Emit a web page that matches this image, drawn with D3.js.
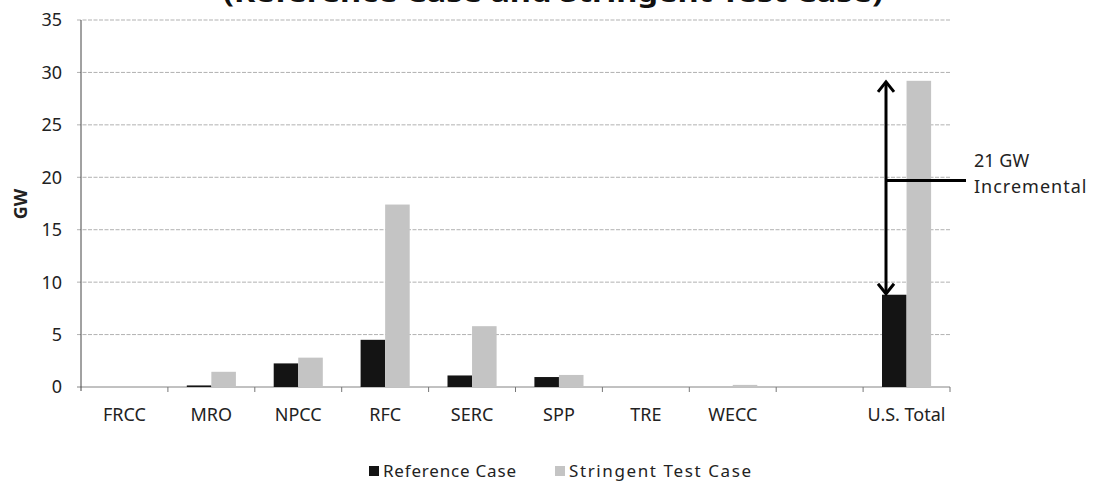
<!DOCTYPE html>
<html>
<head>
<meta charset="utf-8">
<script src="https://cdn.jsdelivr.net/npm/d3@7"></script>
<style>
  body { margin: 0; background: #fff; }
  text { font-family: "Noto Sans", sans-serif; fill: #222; }
</style>
</head>
<body>
<svg id="svg" width="1094" height="484"></svg>
<script>
const categories = ["FRCC", "MRO", "NPCC", "RFC", "SERC", "SPP", "TRE", "WECC", "", "U.S. Total"],
  series = ["Reference Case", "Stringent Test Case"],
  referenceCase = [0, 0.15, 2.25, 4.5, 1.1, 0.95, 0, 0, null, 8.8],
  stringentCase = [0, 1.45, 2.8, 17.4, 5.8, 1.15, 0, 0.2, null, 29.2],
  yTicks = [0, 5, 10, 15, 20, 25, 30, 35],
  incremental = ["21 GW", "Incremental"];

const SVG = d3.select("#svg"),
  L = 81,
  R = 950,
  T = 20,
  B = 387,
  colors = ["#141414", "#c4c4c4"];

var x = d3.scaleBand().domain(categories.map((c, i) => i)).range([L, R]),
  xs = d3.scaleBand().domain(series).range([0, x.bandwidth()]).paddingOuter(0.77),
  y = d3.scaleLinear().domain([0, 35]).range([B, T]);

// title (cut off at top)
SVG.append("text")
  .attr("x", 553)
  .attr("y", 2)
  .attr("text-anchor", "middle")
  .attr("font-weight", "bold")
  .attr("font-size", 27)
  .attr("textLength", 660)
  .attr("lengthAdjust", "spacingAndGlyphs")
  .style("fill", "#111")
  .text("(Reference Case and Stringent Test Case)");

// gridlines
SVG.append("g")
  .selectAll("line")
  .data(yTicks)
  .join("line")
  .attr("x1", L - 4)
  .attr("x2", R)
  .attr("y1", (d) => y(d))
  .attr("y2", (d) => y(d))
  .attr("stroke", (d) => (d == 0 ? "#777" : "#a8a8a8"))
  .attr("stroke-width", 0.9)
  .attr("stroke-dasharray", (d) => (d == 0 ? null : "4,1.5"));

// y tick labels
SVG.append("g")
  .selectAll("text")
  .data(yTicks)
  .join("text")
  .attr("x", 62)
  .attr("y", (d) => y(d))
  .attr("dy", "0.36em")
  .attr("text-anchor", "end")
  .attr("font-size", 18)
  .text((d) => d);

// y axis line
SVG.append("line")
  .attr("x1", L)
  .attr("x2", L)
  .attr("y1", y(35))
  .attr("y2", B + 4)
  .attr("stroke", "#444")
  .attr("stroke-width", 1);

// x ticks
SVG.append("g")
  .selectAll("line")
  .data(categories.map((c, i) => i).slice(1).concat([null]))
  .join("line")
  .attr("x1", (d) => (d == null ? R : x(d)))
  .attr("x2", (d) => (d == null ? R : x(d)))
  .attr("y1", B)
  .attr("y2", B + 5)
  .attr("stroke", "#777");

// category labels
SVG.append("g")
  .selectAll("text")
  .data(categories)
  .join("text")
  .attr("x", (d, i) => x(i) + x.bandwidth() / 2)
  .attr("y", 421)
  .attr("text-anchor", "middle")
  .attr("font-size", 18)
  .text((d) => d);

// y title
SVG.append("text")
  .attr("transform", `translate(27, 204) rotate(-90)`)
  .attr("text-anchor", "middle")
  .attr("font-weight", "bold")
  .attr("font-size", 18)
  .text("GW");

// bars
var values = [referenceCase, stringentCase];
series.forEach((s, k) => {
  SVG.append("g")
    .selectAll("rect")
    .data(values[k].map((v, i) => ({ i: i, v: v })).filter((d) => d.v != null))
    .join("rect")
    .attr("x", (d) => x(d.i) + xs(s))
    .attr("y", (d) => y(d.v))
    .attr("width", xs.bandwidth())
    .attr("height", (d) => B - y(d.v))
    .attr("fill", colors[k]);
});

// incremental annotation
var last = categories.length - 1,
  ax = x(last) + xs(series[0]) + 4,
  yTop = y(stringentCase[last]),
  yBot = y(referenceCase[last]),
  yMid = y(19.7);
var ann = SVG.append("g")
  .attr("stroke", "#000")
  .attr("stroke-width", 3)
  .attr("fill", "none");
ann.append("line").attr("x1", ax).attr("x2", ax).attr("y1", yTop + 1).attr("y2", yBot - 1);
ann.append("path").attr("d", `M${ax - 8},${yTop + 11}L${ax},${yTop + 1}L${ax + 8},${yTop + 11}`);
ann.append("path").attr("d", `M${ax - 8},${yBot - 11}L${ax},${yBot - 1}L${ax + 8},${yBot - 11}`);
ann.append("line").attr("x1", ax).attr("x2", ax + 80).attr("y1", yMid).attr("y2", yMid);

SVG.append("g")
  .selectAll("text")
  .data(incremental)
  .join("text")
  .attr("x", 974)
  .attr("y", (d, i) => 167 + i * 26)
  .attr("font-size", 18)
  .attr("letter-spacing", (d, i) => (i == 1 ? 1 : 0))
  .text((d) => d);

// legend
var lg = SVG.append("g"),
  legendX = [369, 555],
  legendW = [133, 182];
series.forEach((s, k) => {
  lg.append("rect")
    .attr("x", legendX[k])
    .attr("y", 466)
    .attr("width", 10)
    .attr("height", 10)
    .attr("fill", colors[k]);
  lg.append("text")
    .attr("x", legendX[k] + 14)
    .attr("y", 477)
    .attr("font-size", 17)
    .attr("textLength", legendW[k])
    .attr("lengthAdjust", "spacing")
    .text(s);
});
</script>
</body>
</html>
